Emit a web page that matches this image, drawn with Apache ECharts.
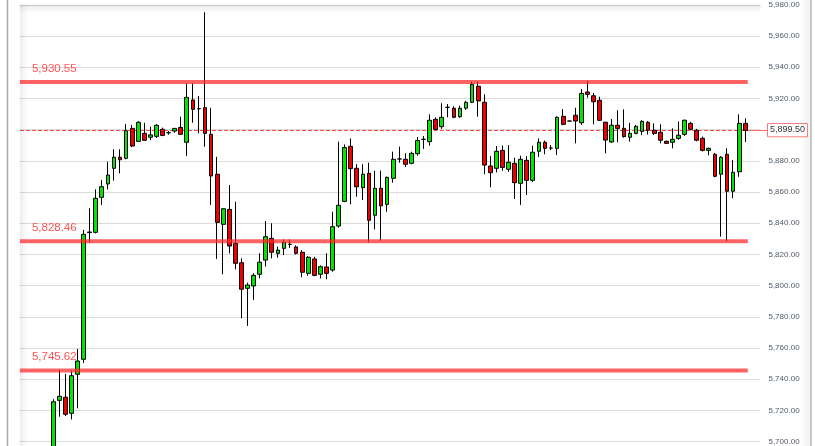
<!DOCTYPE html>
<html><head><meta charset="utf-8">
<script src="https://cdn.jsdelivr.net/npm/echarts@6/dist/echarts.min.js"></script>
<style>html,body{margin:0;padding:0;background:#fff}#c{width:815px;height:446px}</style>
</head><body><div id="c"></div>
<script>
// ---- data ----
const openP  = [5688,5726.5,5728.5,5718.2,5743.2,5752.8,5834.0,5834.2,5856.6,5865.2,
5875.2,5882.3,5881.6,5900.8,5892.5,5897.6,5895.1,5895.7,5900.2,5898.0,
5899.1,5901.4,5891.9,5919.0,5913.4,5914.1,5897.0,5871.4,5839.3,5848.9,
5827.1,5814.7,5798.3,5799.8,5807.3,5816.4,5830.3,5820.7,5823.9,5826.5,
5824.8,5821.4,5807.9,5817.1,5807.3,5812.0,5810.0,5838.2,5854.0,5889.3,
5875.2,5862.8,5872.0,5845.1,5862.4,5852.1,5868.8,5881.2,5881.0,5878.4,
5884.6,5893.8,5892.3,5906.6,5901.9,5914.3,5913.7,5908.3,5913.7,5917.5,
5927.8,5917.5,5876.7,5875.2,5886.7,5874.6,5878.4,5865.6,5880.3,5867.5,
5886.1,5891.9,5888.2,5888.0,5908.5,5905.5,5909.2,5904.4,5924.1,5921.7,
5918.8,5904.7,5892.1,5902.8,5900.8,5895.1,5897.6,5898.9,5904.7,5899.6,
5898.3,5892.5,5891.9,5894.4,5897.0,5904.0,5899.6,5894.4,5886.7,5884.2,
5871.4,5884.2,5860.5,5873.0,5904.0];
const closeP = [5725.6,5729.1,5717.6,5742.3,5751.7,5832.9,5834.4,5856.0,5863.4,5870.9,
5882.3,5880.7,5899.3,5889.5,5904.7,5893.2,5896.6,5902.8,5896.3,5898.0,
5900.8,5897.0,5920.7,5913.0,5913.4,5897.6,5870.3,5840.6,5849.3,5825.4,
5814.3,5797.7,5800.4,5806.6,5815.0,5831.4,5821.4,5822.8,5827.8,5826.5,
5820.7,5808.6,5818.2,5806.6,5812.2,5807.9,5837.8,5851.5,5888.5,5875.0,
5863.4,5871.4,5841.9,5862.4,5851.2,5869.4,5881.0,5881.2,5877.8,5884.8,
5893.0,5893.8,5906.0,5900.2,5907.9,5914.3,5907.9,5913.7,5917.5,5929.0,
5918.4,5877.3,5872.4,5886.1,5875.8,5879.1,5866.0,5881.0,5867.5,5885.5,
5891.9,5888.0,5888.2,5907.9,5903.4,5905.5,5905.5,5923.2,5922.6,5917.9,
5906.0,5893.3,5902.8,5900.8,5895.5,5897.6,5902.1,5905.3,5899.6,5897.6,
5893.2,5891.2,5893.8,5896.4,5906.0,5900.2,5893.2,5886.7,5888.0,5870.1,
5882.3,5860.5,5872.6,5904.0,5899.5];
const lowP   = [5680,5716.0,5716.5,5714.3,5721.4,5750.4,5827.5,5833.5,5851.7,5861.7,
5867.3,5872.0,5881.0,5888.8,5892.3,5893.0,5893.3,5894.6,5895.8,5896.7,
5898.0,5896.8,5883.1,5904.4,5897.6,5889.0,5851.7,5817.1,5807.3,5820.7,
5810.5,5779.1,5774.2,5790.8,5804.7,5812.2,5817.5,5817.9,5819.6,5824.2,
5820.0,5805.4,5806.4,5806.0,5804.7,5804.1,5808.9,5837.1,5853.5,5852.1,
5857.0,5854.9,5827.8,5836.1,5828.8,5847.4,5866.0,5878.8,5876.0,5877.8,
5883.3,5887.6,5889.7,5899.6,5900.5,5907.9,5907.3,5907.5,5912.6,5917.0,
5908.3,5871.4,5863.0,5872.6,5873.7,5873.0,5855.5,5851.7,5858.1,5866.5,
5882.5,5884.2,5886.8,5883.7,5902.8,5905.5,5891.2,5903.0,5920.5,5903.4,
5905.5,5884.8,5891.5,5891.9,5894.8,5892.3,5897.0,5896.5,5896.8,5896.5,
5891.2,5890.8,5888.0,5893.5,5896.0,5899.5,5892.5,5886.0,5883.5,5869.5,
5831.4,5828.4,5856.0,5869.8,5892.1];
const highP  = [5727.2,5746.0,5743.5,5745.5,5759.4,5835.7,5849.6,5861.7,5867.7,5879.4,
5887.4,5887.4,5903.6,5903.0,5905.4,5904.4,5901.9,5903.5,5901.3,5899.1,
5901.0,5908.3,5929.7,5929.7,5921.5,5975.2,5914.0,5882.6,5849.6,5864.5,
5853.8,5817.5,5801.9,5808.0,5820.7,5841.4,5840.0,5825.0,5829.7,5829.7,
5825.8,5822.8,5819.0,5818.5,5813.0,5820.7,5847.4,5892.3,5890.5,5894.4,
5877.8,5877.8,5878.8,5873.7,5873.7,5870.0,5885.9,5889.1,5884.8,5885.9,
5895.3,5895.9,5909.8,5907.9,5916.9,5916.4,5915.0,5915.3,5918.5,5930.7,
5930.7,5922.6,5883.1,5889.5,5889.8,5890.1,5882.0,5883.3,5883.0,5889.7,
5894.4,5893.0,5890.1,5908.5,5913.2,5905.5,5914.0,5926.0,5931.2,5923.5,
5921.1,5905.0,5906.8,5912.4,5913.0,5904.4,5903.0,5906.0,5905.5,5904.0,
5903.4,5893.0,5900.8,5905.3,5906.5,5905.0,5900.5,5895.5,5888.5,5885.0,
5883.0,5888.0,5880.5,5909.8,5907.3];
const levels = [5930.55, 5828.46, 5745.62];
const lastPrice = 5899.50;
const yMin = 5700, yMax = 5980, yStep = 20;
const padLeft = 5, padRight = 2;

// ---- build ----
const n = openP.length;
const categories = [];
for (let i = 0; i < padLeft + n + padRight; i++) categories.push('c' + i);
const candleData = openP.map((o, i) => [i + padLeft, o, closeP[i], lowP[i], highP[i]]);
const fmt = v => Number(v).toLocaleString('en-US', {minimumFractionDigits: 2, maximumFractionDigits: 2});

const chart = echarts.init(document.getElementById('c'), null, {renderer: 'canvas'});
const gridLeft = 19.9, bandW = 6.07;
const gridRight = 815 - (gridLeft + bandW * categories.length);
chart.setOption({
  animation: false,
  backgroundColor: '#ffffff',
  grid: {left: gridLeft, right: gridRight, top: 4.8, bottom: 4.3, containLabel: false},
  xAxis: {
    type: 'category', data: categories, boundaryGap: true,
    axisLine: {show: false}, axisTick: {show: false}, axisLabel: {show: false}, splitLine: {show: false}
  },
  yAxis: {
    type: 'value', position: 'right', min: yMin, max: yMax, interval: yStep, scale: true,
    axisLine: {show: false}, axisTick: {show: false},
    axisLabel: {formatter: fmt, fontSize: 8, color: '#505b66', margin: 8, fontFamily: 'Liberation Sans, Arial, sans-serif'},
    splitLine: {lineStyle: {color: '#dadada', width: 1}}
  },
  series: [{
    type: 'candlestick', data: candleData, encode: {x: 0, y: [1, 2, 3, 4]},
    barWidth: 4.2, clip: false, z: 3,
    itemStyle: {color: '#00e600', color0: '#ee0000', borderColor: '#000', borderColor0: '#000', borderWidth: 1}
  }]
});

function px(i, v) { return chart.convertToPixel({gridIndex: 0}, [i, v]); }
const band = px(1, yMin)[0] - px(0, yMin)[0];
const plotLeft = px(0, yMin)[0] - band / 2;
const plotRight = px(categories.length - 1, yMin)[0] + band / 2;
const lastX = px(padLeft + n - 1, yMin)[0] + band * 0.42;
const topY = px(0, yMax)[1];

const g = [];
// frame
g.push({type: 'line', shape: {x1: 7.5, y1: 0, x2: 7.5, y2: 446}, style: {stroke: '#a9a9a9', lineWidth: 1.5}, z: 20});
g.push({type: 'line', shape: {x1: 811, y1: 0, x2: 811, y2: 446}, style: {stroke: '#b5b5b5', lineWidth: 1.5}, z: 20});
// inner shadows
g.push({type: 'rect', shape: {x: plotLeft, y: topY, width: plotRight - plotLeft, height: 8},
  style: {fill: new echarts.graphic.LinearGradient(0, 0, 0, 1, [{offset: 0, color: 'rgba(0,0,0,0.09)'}, {offset: 1, color: 'rgba(0,0,0,0)'}])}, z: 5});
g.push({type: 'rect', shape: {x: plotLeft, y: topY, width: 8, height: 446 - topY},
  style: {fill: new echarts.graphic.LinearGradient(0, 0, 1, 0, [{offset: 0, color: 'rgba(0,0,0,0.07)'}, {offset: 1, color: 'rgba(0,0,0,0)'}])}, z: 5});
g.push({type: 'rect', shape: {x: 800, y: 0, width: 10, height: 446},
  style: {fill: new echarts.graphic.LinearGradient(0, 0, 1, 0, [{offset: 0, color: 'rgba(0,0,0,0)'}, {offset: 1, color: 'rgba(0,0,0,0.06)'}])}, z: 5});

// levels
levels.forEach(v => {
  const y = px(0, v)[1];
  g.push({type: 'line', shape: {x1: plotLeft, y1: y, x2: lastX, y2: y}, style: {stroke: 'rgba(255,40,40,0.72)', lineWidth: 4}, z: 10});
  g.push({type: 'text', x: plotLeft + 12, y: y - 7.5,
    style: {text: fmt(v), fill: '#ff5252', font: '11.5px "Liberation Sans", Arial, sans-serif', align: 'left', verticalAlign: 'bottom'}, z: 10});
});

// last price
const yp = Math.round(px(0, lastPrice)[1] - 0.5) + 0.5;
const boxX = plotRight + 6.5, boxW = 40, boxH = 13.3;
g.push({type: 'line', shape: {x1: plotLeft, y1: yp, x2: lastX, y2: yp}, style: {stroke: '#ff4a4a', lineWidth: 1, lineDash: [4, 2]}, z: 1});
g.push({type: 'line', shape: {x1: lastX, y1: yp, x2: boxX, y2: yp}, style: {stroke: '#ff6a6a', lineWidth: 1}, z: 1});
g.push({type: 'rect', shape: {x: Math.round(boxX) + 0.5, y: Math.round(yp - boxH / 2 - 1) + 0.5, width: boxW, height: boxH},
  style: {fill: '#ffffff', stroke: '#ff7a7a', lineWidth: 1}, z: 12});
g.push({type: 'text', x: Math.round(boxX) + 0.5 + boxW / 2, y: yp - 0.5,
  style: {text: fmt(lastPrice), fill: '#333333', font: '9px "Liberation Sans", Arial, sans-serif', align: 'center', verticalAlign: 'middle'}, z: 13});

chart.setOption({graphic: g});
</script>
</body></html>
